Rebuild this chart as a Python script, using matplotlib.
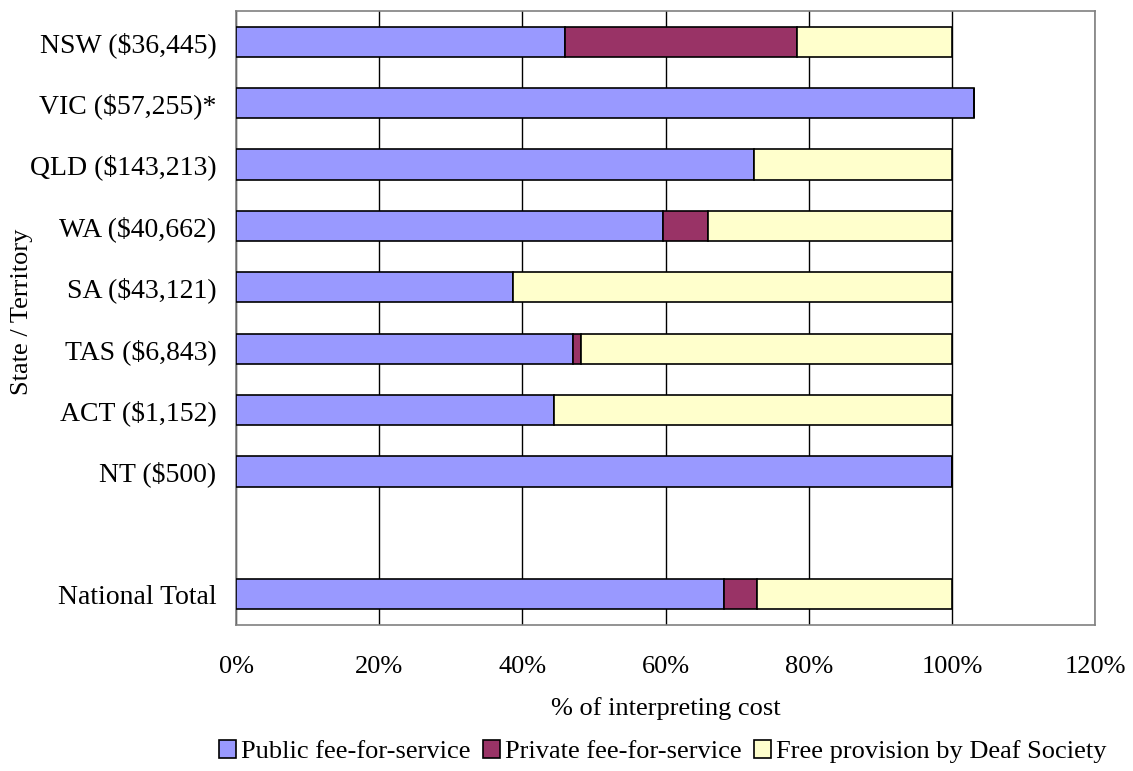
import numpy as np
import matplotlib.pyplot as plt
from matplotlib.ticker import FuncFormatter

plt.rcParams['font.family'] = ['Liberation Serif', 'DejaVu Serif']

# state / territory labels (with total interpreting cost)
states = ['NSW ($36,445)', 'VIC ($57,255)*', 'QLD ($143,213)', 'WA ($40,662)',
          'SA ($43,121)', 'TAS ($6,843)', 'ACT ($1,152)', 'NT ($500)',
          'National Total']

# shares of interpreting cost, %
public_fee = [45.9, 103.1, 72.4, 59.6, 38.7, 47.1, 44.4, 100.0, 68.2]
private_fee = [32.4, 0.0, 0.0, 6.3, 0.0, 1.1, 0.0, 0.0, 4.6]
free_deaf = [21.7, 0.0, 27.6, 34.1, 61.3, 51.8, 55.6, 0.0, 27.2]

series_names = ['Public fee-for-service', 'Private fee-for-service',
                'Free provision by Deaf Society']
colors = ['#9999FF', '#993366', '#FFFFCC']

fig = plt.figure(figsize=(11.33, 7.71), dpi=100)
ax = fig.add_axes([0.2083, 0.1894, 0.7582, 0.7963])

# one empty slot between NT and the national total
ypos = list(range(len(states) - 1)) + [len(states)]

left = np.zeros(len(states))
for vals, name, col in zip([public_fee, private_fee, free_deaf], series_names, colors):
    vals = np.array(vals)
    ax.barh(ypos, vals, left=left, height=0.49, color=col,
            edgecolor='black', linewidth=1.2, label=name, zorder=3)
    left += vals

ax.set_xlim(0, 120)
ax.set_ylim(len(states) + 0.5, -0.5)
ax.set_xticks(np.arange(0, 121, 20))
ax.xaxis.set_major_formatter(FuncFormatter(lambda v, p: f'{v:.0f}%'))
ax.set_yticks(ypos)
ax.set_yticklabels(states, fontsize=20)
ax.tick_params(axis='y', length=0, pad=14)
ax.tick_params(axis='x', length=0, pad=22, labelsize=19)

ax.grid(axis='x', color='black', linewidth=1.0, zorder=0)
for sp in ax.spines.values():
    sp.set_color('#808080')
    sp.set_linewidth(1.2)

ax.set_xlabel('% of interpreting cost', fontsize=19, labelpad=14)
ax.set_ylabel('State / Territory', fontsize=19)
ax.yaxis.set_label_coords(-0.236, 0.51)

fig.legend(loc='center', bbox_to_anchor=(0.585, 0.025), ncol=3, frameon=False,
           fontsize=19, handlelength=0.65, handleheight=0.65, handletextpad=0.2,
           columnspacing=0.45, borderaxespad=0)

fig.savefig('out.png', dpi=100)
